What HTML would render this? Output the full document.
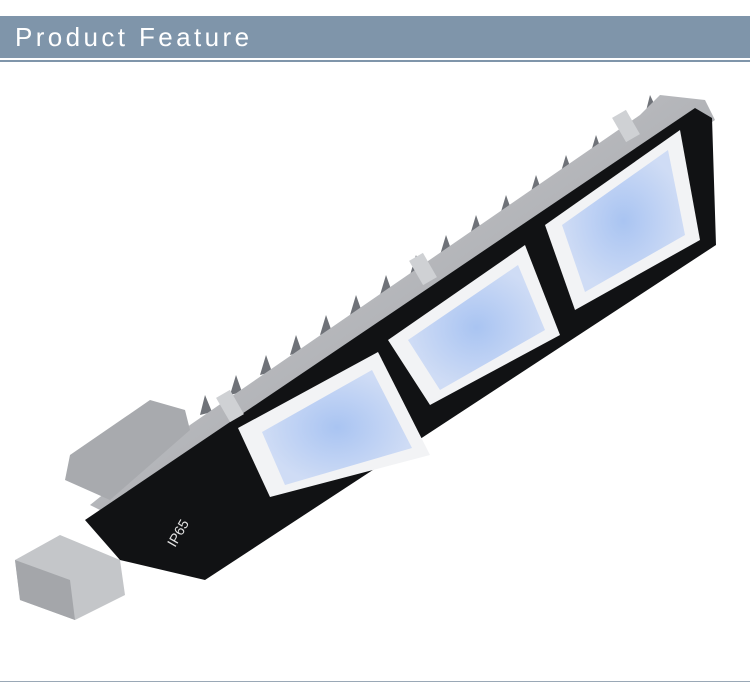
<!DOCTYPE html>
<html><head><meta charset="utf-8"><style>
html,body{margin:0;padding:0;background:#fff;}
body{width:750px;height:695px;position:relative;overflow:hidden;font-family:"Liberation Sans",sans-serif;}
.bar{position:absolute;left:0;top:16px;width:750px;height:42px;background:#7f95aa;}
.bar span{position:absolute;left:15px;top:6px;color:#fff;font-size:26px;letter-spacing:3.4px;}
.l1{position:absolute;left:0;top:60px;width:750px;height:2px;background:#7f95aa;}
.l2{position:absolute;left:0;top:681px;width:750px;height:1px;background:#9aa8b6;}
svg{position:absolute;left:0;top:0;}
</style></head><body>
<div class="bar"><span>Product Feature</span></div>
<div class="l1"></div>
<svg width="750" height="695">
<defs>
<linearGradient id="g" x1="0" y1="0" x2="1" y2="1"><stop offset="0" stop-color="#d8d9dc"/><stop offset="1" stop-color="#8e9095"/></linearGradient>
<radialGradient id="b"><stop offset="0" stop-color="#a9c4f2"/><stop offset="1" stop-color="#cfdcf5"/></radialGradient>
</defs>
<g fill="#6f7278">
<polygon points="200,415 205,395 212,412"/><polygon points="230,395 236,375 242,392"/>
<polygon points="260,375 266,355 272,372"/><polygon points="290,355 296,335 302,352"/>
<polygon points="320,335 326,315 332,332"/><polygon points="350,315 356,295 362,312"/>
<polygon points="380,295 386,275 392,292"/><polygon points="410,275 416,255 422,272"/>
<polygon points="440,255 446,235 452,252"/><polygon points="470,235 476,215 482,232"/>
<polygon points="500,215 506,195 512,212"/><polygon points="530,195 536,175 542,192"/>
<polygon points="560,175 566,155 572,172"/><polygon points="590,155 596,135 602,152"/>
<polygon points="620,135 626,115 632,132"/><polygon points="645,115 650,95 658,112"/>
</g>
<polygon points="190,425 640,115 660,95 705,100 715,120 120,520 90,505" fill="url(#g)"/>
<polygon points="65,480 70,455 150,400 185,410 190,430 110,500" fill="#a8aaae"/>
<polygon points="15,560 60,535 120,560 125,595 75,620 20,600" fill="#c4c6c9"/>
<polygon points="15,560 20,600 75,620 70,580" fill="#a4a6aa"/>
<polygon points="85,520 695,108 712,118 716,245 205,580 120,560" fill="#111214"/>
<polygon points="238,428 378,352 430,455 270,497" fill="#f2f3f5"/>
<polygon points="262,432 372,370 412,448 285,485" fill="url(#b)"/>
<polygon points="388,340 525,245 560,335 430,405" fill="#f2f3f5"/>
<polygon points="408,340 518,265 545,330 440,390" fill="url(#b)"/>
<polygon points="545,225 680,130 700,240 575,310" fill="#f2f3f5"/>
<polygon points="562,225 668,150 685,235 585,292" fill="url(#b)"/>
<rect x="222" y="392" width="16" height="28" fill="#cfd1d4" transform="rotate(-30 230 406)"/>
<rect x="415" y="255" width="16" height="28" fill="#cfd1d4" transform="rotate(-30 423 269)"/>
<rect x="618" y="112" width="16" height="28" fill="#cfd1d4" transform="rotate(-30 626 126)"/>
<text x="175" y="548" fill="#e0e0e0" font-size="14" font-family="Liberation Sans,sans-serif" transform="rotate(-60 175 548)">IP65</text>
</svg>
<div class="l2"></div>
</body></html>
